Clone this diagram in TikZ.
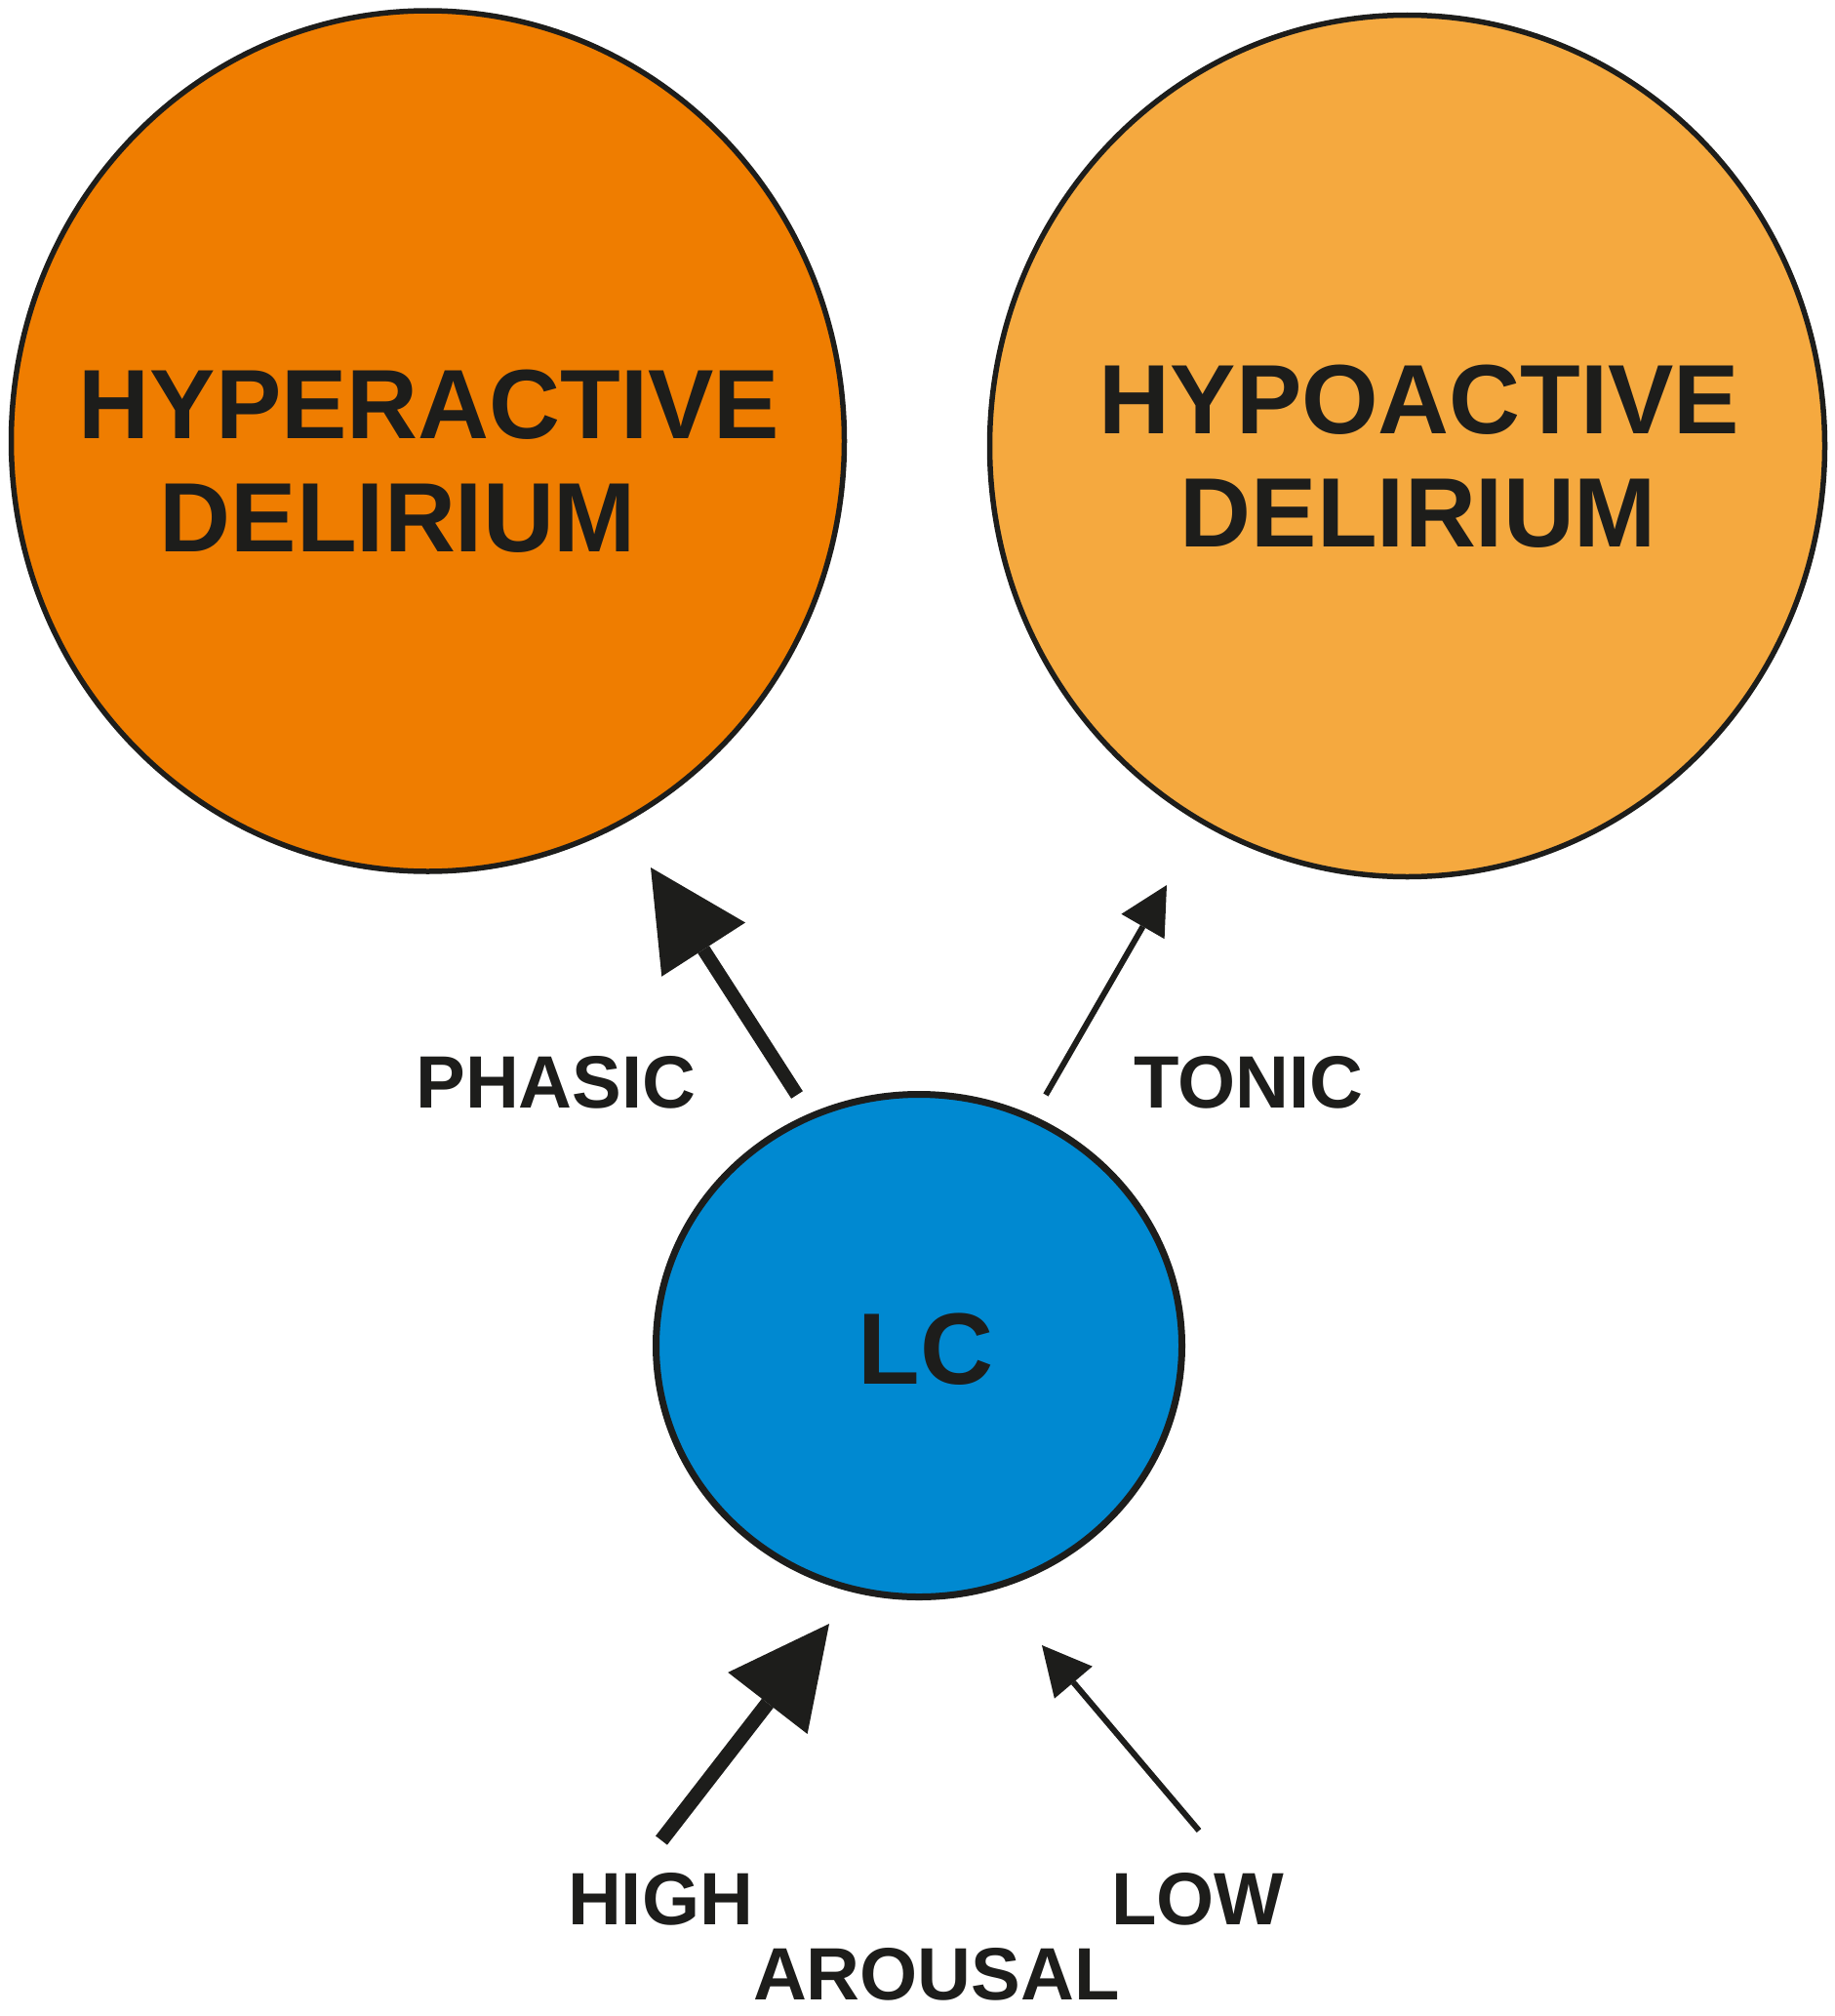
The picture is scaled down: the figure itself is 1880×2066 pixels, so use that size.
\documentclass[tikz,border=0pt]{standalone}
\usepackage{fontspec}
\setmainfont{Liberation Sans}
\usetikzlibrary{shapes.geometric,arrows.meta}
\definecolor{hyperc}{RGB}{239,125,0}
\definecolor{hypoc}{RGB}{245,169,63}
\definecolor{lcblue}{RGB}{0,137,209}
\definecolor{inkc}{RGB}{29,29,27}
\tikzset{
  bubble/.style={ellipse, draw=inkc, inner sep=0pt},
  bigtext/.style={anchor=base, inner sep=0pt, text=inkc, font=\fontsize{101}{110}\selectfont\bfseries},
  lbltext/.style={anchor=base, inner sep=0pt, text=inkc, font=\fontsize{76}{84}\selectfont\bfseries},
  thickarrow/.style={draw=inkc, line width=14pt, -{Triangle[length=100pt,width=102pt,line width=0pt]}},
  thinarrow/.style={draw=inkc, line width=6pt, -{Triangle[length=49pt,width=51pt,line width=0pt]}},
}
\begin{document}
\begin{tikzpicture}[x=1pt,y=-1pt]
\useasboundingbox[fill=white] (0,0) rectangle (1880,2066);
% circles
\node[bubble, fill=hyperc, line width=5.5pt, minimum width=854pt, minimum height=882pt] (hyper) at (438.5,452) {};
\node[bubble, fill=hypoc, line width=5.5pt, minimum width=856pt, minimum height=883pt] (hypo) at (1442.5,457) {};
\node[bubble, fill=lcblue, line width=7pt, minimum width=539pt, minimum height=515pt] (lc) at (942,1379) {};
% texts
\node[bigtext] (t1) at (440,449) {HYPERACTIVE};
\node[bigtext] (t2) at (408,565) {DELIRIUM};
\node[bigtext] (t3) at (1455,444) {HYPOACTIVE};
\node[bigtext] (t4) at (1454,560) {DELIRIUM};
\node[bigtext, font=\fontsize{104}{110}\selectfont\bfseries] (tlc) at (949,1418) {LC};
\node[lbltext] (phasic) at (570,1135) {PHASIC};
\node[lbltext] (tonic) at (1280,1135) {TONIC};
\node[lbltext] (high) at (677,1972) {HIGH};
\node[lbltext] (low) at (1228,1972) {LOW};
\node[lbltext] (arousal) at (960,2049) {AROUSAL};
% arrow end points
\coordinate (phT) at (817,1122);
\coordinate (phH) at (667,889);
\coordinate (toT) at (1072,1122);
\coordinate (toH) at (1196,907);
\coordinate (hiT) at (678,1886);
\coordinate (hiH) at (850,1664);
\coordinate (loT) at (1229,1876);
\coordinate (loH) at (1068,1686);
% arrows
\draw[thickarrow] (phT) -- (phH);
\draw[thinarrow] (toT) -- (toH);
\draw[thickarrow, -{Triangle[length=103pt,width=103pt,line width=0pt]}, line width=15pt] (hiT) -- (hiH);
\draw[thinarrow, -{Triangle[length=50pt,width=51pt,line width=0pt]}] (loT) -- (loH);
\end{tikzpicture}
\end{document}
